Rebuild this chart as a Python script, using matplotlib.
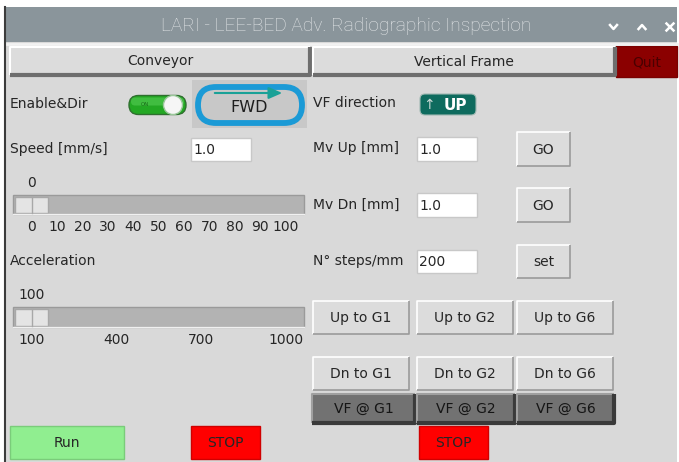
import matplotlib
matplotlib.use('Agg')
import matplotlib.pyplot as plt
from matplotlib.patches import Rectangle, FancyBboxPatch, Circle

# window texts / widget values
window_title = 'LARI - LEE-BED Adv. Radiographic Inspection'
tab_labels = ['Conveyor', 'Vertical Frame']
quit_label = 'Quit'
conveyor_labels = ['Enable&Dir', 'Speed [mm/s]', 'Acceleration']
speed_entry = '1.0'
direction_label = 'FWD'
speed_value = 0
speed_ticks = [0, 10, 20, 30, 40, 50, 60, 70, 80, 90, 100]
accel_value = 100
accel_ticks = [100, 400, 700, 1000]
vf_labels = ['VF direction', 'Mv Up [mm]', 'Mv Dn [mm]', 'N° steps/mm']
vf_entries = ['1.0', '1.0', '200']
vf_buttons = ['GO', 'GO', 'set']
up_buttons = ['Up to G1', 'Up to G2', 'Up to G6']
dn_buttons = ['Dn to G1', 'Dn to G2', 'Dn to G6']
at_buttons = ['VF @ G1', 'VF @ G2', 'VF @ G6']

W, H = 679, 462
BG = '#d9d9d9'
FS = 10

fig = plt.figure(figsize=(W / 100, H / 100), dpi=100)
ax = fig.add_axes([0, 0, 1, 1])
ax.set_xlim(0, W)
ax.set_ylim(H, 0)
ax.axis('off')
plt.rcParams['font.family'] = ['DejaVu Sans']


def bevel(x0, y0, x1, y1, fc, light='#f4f4f4', dark='#8c8c8c', lw=1.2, dlw=None):
    ax.add_patch(Rectangle((x0, y0), x1 - x0, y1 - y0, fc=fc, ec='none'))
    dlw = dlw or lw
    ax.plot([x0, x0, x1], [y1, y0, y0], color=light, lw=lw, solid_capstyle='butt')
    ax.plot([x0, x1, x1], [y1, y1, y0], color=dark, lw=dlw, solid_capstyle='butt')


def button(x0, y0, x1, y1, label, fc='#dcdcdc', tc='#262626', **kw):
    bevel(x0, y0, x1, y1, fc, **kw)
    ax.text((x0 + x1) / 2, (y0 + y1) / 2 + 0.5, label, ha='center', va='center',
            fontsize=FS, color=tc)


def flat(x0, y0, x1, y1, label, fc, ec, tc='#262626'):
    ax.add_patch(Rectangle((x0, y0), x1 - x0, y1 - y0, fc=fc, ec=ec, lw=1))
    ax.text((x0 + x1) / 2, (y0 + y1) / 2 + 0.5, label, ha='center', va='center',
            fontsize=FS, color=tc)


def entry(x0, y0, x1, y1, text):
    ax.add_patch(Rectangle((x0, y0), x1 - x0, y1 - y0, fc='white', ec='#c8c8c8', lw=1))
    ax.text(x0 + 2, (y0 + y1) / 2 + 0.5, text, ha='left', va='center', fontsize=FS, color='#262626')


def slider(y_lbl, y0, y1, y_ticks, value, ticks):
    lo, hi = ticks[0], ticks[-1]
    xs = lambda v: 31.5 + (v - lo) / (hi - lo) * 254
    ax.add_patch(Rectangle((13, y0), 291, y1 - y0, fc='#b3b3b3', ec='#9a9a9a', lw=1))
    ax.plot([13, 304], [y1, y1], color='#f0f0f0', lw=1)
    hx = xs(value)
    ax.add_patch(Rectangle((hx - 16.5, y0 + 2), 33, y1 - y0 - 3, fc='#e4e4e4', ec='#a8a8a8', lw=1))
    ax.plot([hx, hx], [y0 + 2, y1 - 1], color='#a8a8a8', lw=1)
    ax.text(hx, y_lbl, str(value), ha='center', va='center', fontsize=FS, color='#262626')
    for t in ticks:
        ax.text(xs(t), y_ticks, str(t), ha='center', va='center', fontsize=FS, color='#262626')


# outer and window background
ax.add_patch(Rectangle((0, 0), W, H, fc='white', ec='none'))
ax.add_patch(Rectangle((5, 42), W - 7, H - 42, fc=BG, ec='none'))
ax.add_patch(Rectangle((5, 7), W - 7, 35, fc='#8a959b', ec='none'))
ax.plot([5, W - 2], [43.5, 43.5], color='#f2f2f2', lw=2)
ax.plot([5, 5], [7, H], color='#3c3c3c', lw=1.5)
ax.text(346, 26, window_title, ha='center', va='center', fontsize=13.8,
        family='Roboto', fontweight='light', color='#e3e6e8')
# title bar icons
ax.plot([610, 613.5, 617], [25, 29, 25], color='white', lw=1.8)
ax.plot([638.5, 642, 645.5], [29, 25, 29], color='white', lw=1.8)
ax.plot([666.5, 673.5], [23.5, 30.5], color='white', lw=1.8)
ax.plot([666.5, 673.5], [30.5, 23.5], color='white', lw=1.8)

# tab buttons
button(10, 47, 310, 75, tab_labels[0], fc='#dcdcdc', light='#ffffff', dark='#6e6e6e', lw=1.5, dlw=3)
button(313, 47, 615, 75, tab_labels[1], fc='#dcdcdc', light='#ffffff', dark='#6e6e6e', lw=1.5, dlw=3)
flat(616, 46, 677, 77, quit_label, '#8b0000', '#7a0000', tc='#4a0000')

# conveyor column
for lbl, y in zip(conveyor_labels, [104, 149, 261]):
    ax.text(10, y, lbl, ha='left', va='center', fontsize=FS, color='#262626')

# enable toggle
ax.add_patch(FancyBboxPatch((129, 95.5), 57, 19, boxstyle='round,pad=0,rounding_size=9.5',
                            fc='#23a823', ec='#2f6f2f', lw=1))
ax.add_patch(FancyBboxPatch((131, 97.5), 53, 8, boxstyle='round,pad=0,rounding_size=4',
                            fc='#55cc55', ec='none', alpha=0.6))
ax.add_patch(Circle((173, 105), 9.5, fc='#f6f6f6', ec='#9ac79a', lw=1))
ax.text(145, 105, 'ON', ha='center', va='center', fontsize=4, color='#1b6e1b')

# direction button
ax.add_patch(Rectangle((192, 80), 115, 48, fc='#c8c8c8', ec='none'))
ax.add_patch(FancyBboxPatch((198, 87), 104, 36, boxstyle='round,pad=0,rounding_size=18',
                            fc='#c8c8c8', ec='#1b9ad6', lw=4.2))
ax.annotate('', xy=(285, 93), xytext=(212, 93),
            arrowprops=dict(arrowstyle='-|>,head_length=0.8,head_width=0.35', color='#1aa197', lw=1.5))
ax.text(249, 107, direction_label, ha='center', va='center', fontsize=11.5, color='#1e1e1e')

entry(191, 138, 251, 161, speed_entry)
slider(183, 195, 214, 227, speed_value, speed_ticks)
slider(295, 307, 327, 340, accel_value, accel_ticks)

# vertical frame column
for lbl, y in zip(vf_labels, [103, 148, 205, 261]):
    ax.text(313, y, lbl, ha='left', va='center', fontsize=FS, color='#262626')
ax.add_patch(FancyBboxPatch((420, 94), 56, 21, boxstyle='round,pad=0,rounding_size=5',
                            fc='#0e6b5e', ec='#9fb8b2', lw=0.8))
ax.text(429, 105, '↑', ha='center', va='center', fontsize=10, color='#c9d8d4')
ax.text(455, 105, 'UP', ha='center', va='center', fontsize=11, fontweight='bold', color='white')

for txt, lbl, (y0, y1), (b0, b1) in zip(vf_entries, vf_buttons,
                                         [(137, 161), (193, 217), (250, 273)],
                                         [(132, 166), (188, 222), (245, 278)]):
    entry(417, y0, 477, y1, txt)
    button(517, b0, 570, b1, lbl, light='#ffffff', dark='#9a9a9a')

cols = [(313, 409), (417, 513), (517, 613)]
for (x0, x1), lbl in zip(cols, up_buttons):
    button(x0, 301, x1, 334, lbl, light='#ffffff', dark='#9a9a9a')
for (x0, x1), lbl in zip(cols, dn_buttons):
    button(x0, 357, x1, 390, lbl, light='#ffffff', dark='#9a9a9a')
for (x0, x1), lbl in zip([(312, 415), (417, 515), (517, 614)], at_buttons):
    button(x0, 394, x1, 423, lbl, fc='#727272', tc='#151515', light='#a0a0a0', dark='#3a3a3a',
           lw=1.5, dlw=3)

# run / stop
flat(10, 426, 124, 459, 'Run', '#90ee90', '#7acc7a')
flat(191, 426, 260, 459, 'STOP', '#ff0000', '#d00000')
flat(419, 426, 488, 459, 'STOP', '#ff0000', '#d00000')

fig.savefig('out.png', dpi=100)
plt.close(fig)
